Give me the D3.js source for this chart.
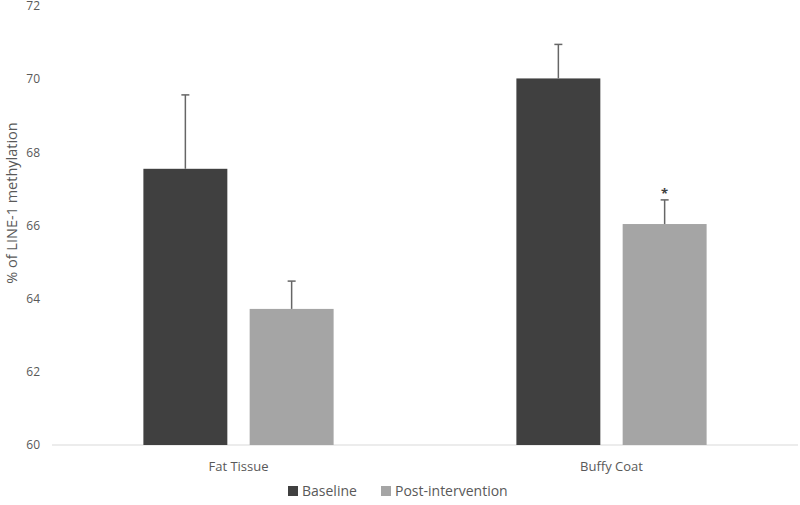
<!DOCTYPE html>
<html>
<head>
<meta charset="utf-8">
<script src="https://cdn.jsdelivr.net/npm/d3@7"></script>
<style>
body{margin:0;background:#fff;}
text{font-family:"Open Sans","Noto Sans",sans-serif;fill:#595959;}
</style>
</head>
<body>
<div id="chart"></div>
<script>
var categories=["Fat Tissue","Buffy Coat"];
var seriesNames=["Baseline","Post-intervention"];
var baseline=[67.55,70.02];
var baselineErr=[2.02,0.93];
var postIntervention=[63.72,66.04];
var postErr=[0.76,0.66];
var significant=[false,true];
var yTicks=[60,62,64,66,68,70,72];
var colors=["#404040","#a5a5a5"];

var drawChart=function()
{
  var width=800;
  var height=505;
  var svg=d3.select("#chart").append("svg")
            .attr("width",width)
            .attr("height",height);

  var left=52, right=798, top=6, bottom=445;

  var x=d3.scaleBand().domain(categories).range([left,right]);
  var x1=d3.scaleBand().domain(seriesNames).range([x.bandwidth()*0.245,x.bandwidth()*0.755]).paddingInner(0.21);
  var y=d3.scaleLinear().domain([60,72]).range([bottom,top]);

  // y tick labels
  svg.selectAll(".ytick")
     .data(yTicks)
     .enter()
     .append("text")
     .attr("class","ytick")
     .attr("x",40)
     .attr("y",function(d){return y(d);})
     .attr("dy","0.35em")
     .attr("text-anchor","end")
     .attr("font-size",12)
     .text(function(d){return d;});

  // baseline axis line
  svg.append("line")
     .attr("x1",left).attr("x2",right)
     .attr("y1",y(60)).attr("y2",y(60))
     .attr("stroke","#d9d9d9")
     .attr("stroke-width",1);

  var rows=[];
  categories.forEach(function(c,i){
    rows.push({cat:c,s:seriesNames[0],v:baseline[i],e:baselineErr[i],sig:false,col:colors[0]});
    rows.push({cat:c,s:seriesNames[1],v:postIntervention[i],e:postErr[i],sig:significant[i],col:colors[1]});
  });

  svg.selectAll("rect.bar")
     .data(rows)
     .enter()
     .append("rect")
     .attr("class","bar")
     .attr("x",function(d){return x(d.cat)+x1(d.s);})
     .attr("y",function(d){return y(d.v);})
     .attr("width",x1.bandwidth())
     .attr("height",function(d){return y(60)-y(d.v);})
     .attr("fill",function(d){return d.col;});

  // error bars
  var eb=svg.selectAll("g.err")
     .data(rows)
     .enter()
     .append("g")
     .attr("class","err");
  eb.append("line")
    .attr("x1",function(d){return x(d.cat)+x1(d.s)+x1.bandwidth()/2;})
    .attr("x2",function(d){return x(d.cat)+x1(d.s)+x1.bandwidth()/2;})
    .attr("y1",function(d){return y(d.v);})
    .attr("y2",function(d){return y(d.v+d.e);})
    .attr("stroke","#666666")
    .attr("stroke-width",1.5);
  eb.append("line")
    .attr("x1",function(d){return x(d.cat)+x1(d.s)+x1.bandwidth()/2-4;})
    .attr("x2",function(d){return x(d.cat)+x1(d.s)+x1.bandwidth()/2+4;})
    .attr("y1",function(d){return y(d.v+d.e);})
    .attr("y2",function(d){return y(d.v+d.e);})
    .attr("stroke","#666666")
    .attr("stroke-width",1.5);

  svg.selectAll("text.sig")
     .data(rows.filter(function(d){return d.sig;}))
     .enter()
     .append("text")
     .attr("class","sig")
     .attr("x",function(d){return x(d.cat)+x1(d.s)+x1.bandwidth()/2;})
     .attr("y",function(d){return y(d.v+d.e)-2;})
     .attr("text-anchor","middle")
     .attr("font-size",13)
     .attr("font-weight","bold")
     .style("fill","#404040")
     .text("*");

  // category labels
  svg.selectAll("text.cat")
     .data(categories)
     .enter()
     .append("text")
     .attr("class","cat")
     .attr("x",function(d){return x(d)+x.bandwidth()/2;})
     .attr("y",471)
     .attr("text-anchor","middle")
     .attr("font-size",13)
     .text(function(d){return d;});

  // y title
  svg.append("text")
     .attr("transform","translate(17,203) rotate(-90)")
     .attr("text-anchor","middle")
     .attr("font-size",14.5)
     .text("% of LINE-1 methylation");

  // legend
  var legendX=[288,381];
  var legend=svg.selectAll("g.leg")
     .data(seriesNames)
     .enter()
     .append("g")
     .attr("class","leg")
     .attr("transform",function(d,i){return "translate("+legendX[i]+",491)";});
  legend.append("rect")
        .attr("x",0).attr("y",-5)
        .attr("width",10).attr("height",10)
        .attr("fill",function(d,i){return colors[i];});
  legend.append("text")
        .attr("x",14)
        .attr("y",0)
        .attr("dy","0.35em")
        .attr("font-size",14)
        .text(function(d){return d;});
};
drawChart();
</script>
</body>
</html>
